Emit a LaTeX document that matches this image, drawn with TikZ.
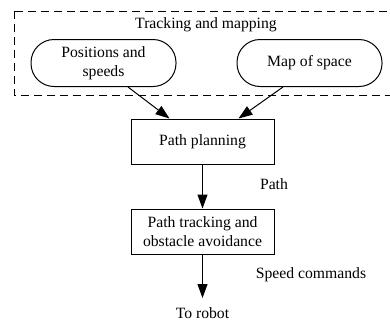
\documentclass[tikz,border=0pt]{standalone}
\usepackage{fontspec}
\setmainfont{Liberation Serif}
\usetikzlibrary{arrows.meta}
\begin{document}
\begin{tikzpicture}[x=1pt,y=-1pt,
  every node/.style={font=\fontsize{15.7}{18.5}\selectfont, inner sep=0pt},
  pill/.style={draw, line width=1pt, rounded corners=23pt, minimum width=145pt, minimum height=47pt, align=center},
  stagebox/.style={draw, line width=1pt, minimum width=143pt, minimum height=45pt, align=center},
  flow/.style={line width=1pt, -{Triangle[length=14pt,width=10pt]}},
  group/.style={line width=1pt, dash pattern=on 8pt off 5pt}
]
\useasboundingbox (0,0) rectangle (390,322);
\clip (0,0) rectangle (390,322);

% tracking and mapping group
\draw[group] (14,11) rectangle (396,95);
\node (grp) at (206,25) {Tracking and mapping};
\node[pill] (pos) at (103.5,63) {Positions and\\speeds};
\node[pill] (map) at (309.5,63) {Map of space};

% planning and control chain
\node[stagebox] (plan) at (202.5,141.5) {Path planning};
\node[stagebox] (track) at (202.5,231.5) {Path tracking and\\obstacle avoidance};
\coordinate (out) at (202.5,298);
\node (robot) at (202.5,313) {To robot};

\draw[flow] ([xshift=24.5pt]pos.south) -- ([xshift=-33pt]plan.north);
\draw[flow] ([xshift=-26.5pt]map.south) -- ([xshift=36pt]plan.north);
\draw[flow] (plan.south) -- (track.north);
\draw[flow] (track.south) -- (out);

% signal labels
\node at (274,184) {Path};
\node at (311,275) {Speed commands};
\end{tikzpicture}
\end{document}
